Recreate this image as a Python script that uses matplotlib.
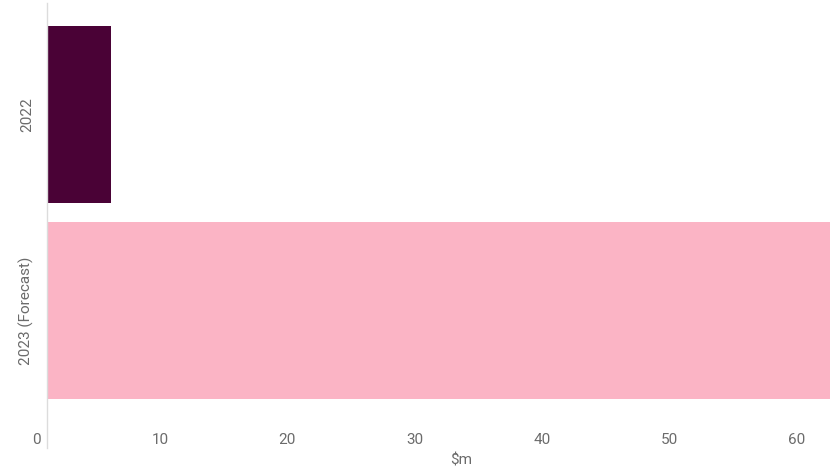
import matplotlib
matplotlib.use("Agg")
import matplotlib.pyplot as plt
import matplotlib.transforms as mtransforms
from matplotlib.lines import Line2D

# Spending by year, $m
categories = ["2022", "2023 (Forecast)"]
values = [5, 65]
bar_colors = ["#4a0236", "#fbb4c5"]
x_ticks = [0, 10, 20, 30, 40, 50, 60]
x_label = r"\$m"

plt.rcParams["font.family"] = ["Roboto", "DejaVu Sans"]
text_grey = "#6b6b6b"

W, H = 830, 468
fig = plt.figure(figsize=(W / 100, H / 100), dpi=100)
left_px, top_px, bottom_px = 47, 3, 420
ax = fig.add_axes([left_px / W, 1 - bottom_px / H, 1 - left_px / W, (bottom_px - top_px) / H])

pos = list(range(len(categories)))
ax.barh(pos, values, height=0.9, color=bar_colors, linewidth=0)

ax.set_xlim(0, 61.46)
ax.set_ylim(1.5544, -0.5646)

for s in ax.spines.values():
    s.set_visible(False)

# left axis line running a bit below the plot area
ax.add_line(Line2D([0, 0], [-0.067, 1.0], transform=ax.transAxes, color="#dcdcdc",
                   linewidth=1.0, clip_on=False))

ax.set_xticks(x_ticks)
ax.set_xticklabels([str(t) for t in x_ticks])
ax.tick_params(axis="x", length=0, pad=9, labelsize=11, labelcolor=text_grey)
shift = mtransforms.ScaledTranslation(-6 / 100, 0, fig.dpi_scale_trans)
for lbl in ax.get_xticklabels():
    lbl.set_horizontalalignment("right")
    lbl.set_transform(lbl.get_transform() + shift)

ax.set_yticks(pos)
ax.set_yticklabels(categories, rotation=90, va="center")
ax.tick_params(axis="y", length=0, pad=9, labelsize=11, labelcolor=text_grey)

fig.text(461 / W, 1 - 461 / H, x_label, ha="center", va="center", fontsize=11, color=text_grey)

fig.savefig("out.png", dpi=100)
